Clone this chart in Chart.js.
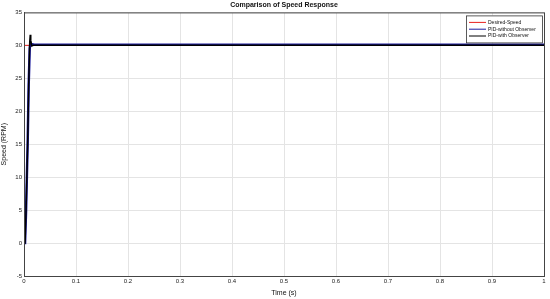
<!DOCTYPE html>
<html>
<head>
<meta charset="utf-8">
<script src="https://cdn.jsdelivr.net/npm/chart.js@4/dist/chart.umd.min.js"></script>
<style>
  html, body { margin: 0; padding: 0; background: #fff; }
  #wrap { width: 550px; height: 299px; }
</style>
</head>
<body>
<div id="wrap"><canvas id="speedChart"></canvas></div>
<script>
/* speed response data */
const desiredT = [0, 1];
const desiredV = [30, 30];

const noObsT = [0, 0.002, 0.004, 0.007, 0.009, 0.011, 0.012, 0.014, 0.02, 0.05, 1];
const noObsV = [0, 0, 5, 15, 24, 29.5, 30.1, 30.2, 30.1, 30.1, 30.1];

const withObsT = [0, 0.002, 0.004, 0.007, 0.009, 0.011, 0.012, 0.013, 0.015, 0.018, 1];
const withObsV = [0, 0, 5, 15, 24, 30.5, 31.6, 30.8, 29.9, 30, 30];

const yTicks = [-5, 0, 5, 10, 15, 20, 25, 30, 35];

const pts = (t, v) => t.map((x, i) => ({ x: x, y: v[i] }));

const FONT = "'Liberation Sans', Arial, sans-serif";

/* legend box drawn inside the plot, top right */
const boxLegend = {
  id: "boxLegend",
  afterDatasetsDraw(chart) {
    const ctx = chart.ctx;
    const a = chart.chartArea;
    const x0 = a.right - 78, y0 = a.top + 3, w = 76, h = 27;
    ctx.save();
    ctx.fillStyle = "#fff";
    ctx.fillRect(x0, y0, w, h);
    ctx.strokeStyle = "#333";
    ctx.lineWidth = 0.8;
    ctx.strokeRect(x0 + 0.5, y0 + 0.5, w, h);
    ctx.font = "5px " + FONT;
    ctx.textBaseline = "middle";
    const order = [0, 1, 2];
    order.forEach(i => {
      const ds = chart.data.datasets[i];
      const yy = y0 + 7 + i * 6.8;
      ctx.strokeStyle = ds.borderColor;
      ctx.lineWidth = 1;
      ctx.beginPath();
      ctx.moveTo(x0 + 3, yy);
      ctx.lineTo(x0 + 20, yy);
      ctx.stroke();
      ctx.fillStyle = "#111";
      ctx.fillText(ds.label, x0 + 22, yy);
    });
    ctx.restore();
  }
};

/* box round the plot area */
const frame = {
  id: "frame",
  afterDraw(chart) {
    const a = chart.chartArea;
    const ctx = chart.ctx;
    ctx.save();
    ctx.strokeStyle = "#444";
    ctx.lineWidth = 1;
    ctx.strokeRect(a.left + 0.5, a.top + 0.5, a.right - a.left, a.bottom - a.top);
    ctx.restore();
  }
};

new Chart(document.getElementById("speedChart"), {
  type: "line",
  data: {
    datasets: [
      {
        label: "Desired-Speed",
        data: pts(desiredT, desiredV),
        borderColor: "#e8211d",
        borderWidth: 1,
        pointRadius: 0,
        tension: 0,
        order: 3
      },
      {
        label: "PID-without Observer",
        data: pts(noObsT, noObsV),
        borderColor: "#1c1c9e",
        borderWidth: 2.5,
        pointRadius: 0,
        tension: 0,
        order: 2
      },
      {
        label: "PID-with Observer",
        data: pts(withObsT, withObsV),
        borderColor: "#000000",
        borderWidth: 1.5,
        pointRadius: 0,
        tension: 0,
        order: 1
      }
    ]
  },
  options: {
    responsive: true,
    maintainAspectRatio: false,
    animation: false,
    layout: { padding: { left: 0, right: 6, top: 0, bottom: 0 } },
    plugins: {
      legend: { display: false },
      tooltip: { enabled: false },
      title: {
        display: true,
        fullSize: false,
        text: "Comparison of Speed Response",
        color: "#111",
        font: { size: 7, weight: "bold", family: FONT },
        padding: { top: 1, bottom: 3 }
      }
    },
    scales: {
      x: {
        type: "linear",
        min: 0,
        max: 1,
        ticks: {
          stepSize: 0.1,
          color: "#222",
          font: { size: 6, family: FONT },
          padding: 2,
          maxRotation: 0,
          callback: v => Math.round(v * 10) / 10
        },
        grid: { color: "#e4e4e4", tickLength: 0 },
        border: { color: "#444" },
        title: {
          display: true,
          text: "Time (s)",
          color: "#111",
          font: { size: 7, family: FONT },
          padding: { top: 1, bottom: 2 }
        },
        afterFit: s => { s.height = 23; }
      },
      y: {
        min: -5,
        max: 35,
        afterBuildTicks: s => { s.ticks = yTicks.map(v => ({ value: v })); },
        ticks: {
          color: "#222",
          font: { size: 6, family: FONT },
          padding: 2
        },
        grid: { color: "#e4e4e4", tickLength: 0 },
        border: { color: "#444" },
        title: {
          display: true,
          text: "Speed (RPM)",
          color: "#111",
          font: { size: 7, family: FONT },
          padding: { top: 0, bottom: 1 }
        },
        afterFit: s => { s.width = 24; }
      }
    }
  },
  plugins: [boxLegend, frame]
});
</script>
</body>
</html>
